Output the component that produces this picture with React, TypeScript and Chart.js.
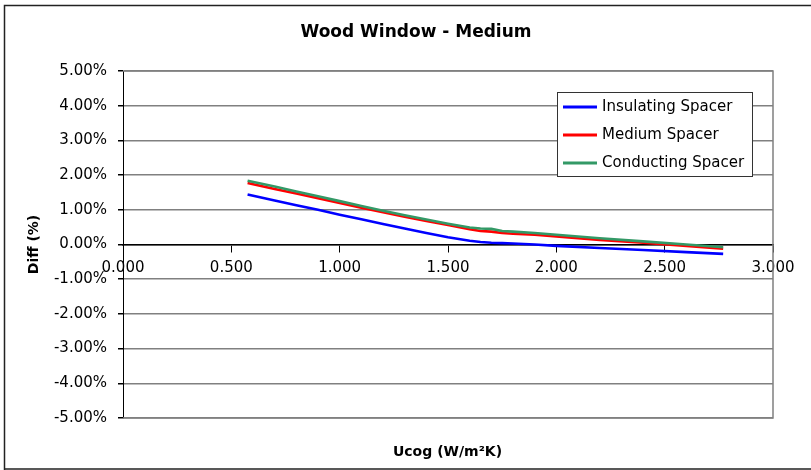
import React, { useEffect, useRef } from "react";
import { Chart, registerables } from "chart.js";

Chart.register(...registerables);

const TITLE = "Wood Window - Medium";
const X_TITLE = "Ucog (W/m\u00B2K)";
const Y_TITLE = "Diff (%)";

const ucog = [0.575, 0.7, 0.8, 0.9, 1.0, 1.1, 1.2, 1.3, 1.4, 1.5, 1.6, 1.65, 1.7, 1.75, 1.8, 1.9, 2.0, 2.2, 2.4, 2.6, 2.77];
const insulating = [1.44, 1.27, 1.13, 1.0, 0.86, 0.73, 0.59, 0.46, 0.33, 0.21, 0.11, 0.07, 0.05, 0.04, 0.03, 0.0, -0.04, -0.1, -0.16, -0.22, -0.27];
const medium = [1.77, 1.6, 1.47, 1.33, 1.2, 1.06, 0.93, 0.8, 0.68, 0.56, 0.44, 0.39, 0.37, 0.33, 0.31, 0.28, 0.23, 0.13, 0.05, -0.04, -0.12];
const conducting = [1.84, 1.67, 1.53, 1.39, 1.25, 1.11, 0.97, 0.84, 0.72, 0.6, 0.49, 0.46, 0.45, 0.39, 0.37, 0.33, 0.28, 0.18, 0.09, 0.0, -0.08];

const seriesNames = ["Insulating Spacer", "Medium Spacer", "Conducting Spacer"];
const seriesColors = ["#0000FF", "#FF0000", "#339966"];
const seriesValues = [insulating, medium, conducting];

const FONT = "'DejaVu Sans', 'Liberation Sans', Arial, sans-serif";

const framePlugin = {
  id: "frame",
  beforeDraw(chart: any) {
    const { ctx } = chart;
    ctx.save();
    ctx.fillStyle = "#fff";
    ctx.fillRect(0, 0, chart.width, chart.height);
    ctx.strokeStyle = "#222";
    ctx.lineWidth = 1.5;
    ctx.beginPath();
    ctx.moveTo(4.5, chart.height);
    ctx.lineTo(4.5, 5.5);
    ctx.lineTo(chart.width, 5.5);
    ctx.moveTo(4, chart.height - 1);
    ctx.lineTo(chart.width, chart.height - 1);
    ctx.stroke();
    ctx.restore();
  },
  beforeDatasetsDraw(chart: any) {
    const { ctx, chartArea } = chart;
    ctx.save();
    ctx.strokeStyle = "#808080";
    ctx.lineWidth = 1.5;
    ctx.beginPath();
    ctx.moveTo(chartArea.left, chartArea.top);
    ctx.lineTo(chartArea.right, chartArea.top);
    ctx.lineTo(chartArea.right, chartArea.bottom);
    ctx.lineTo(chartArea.left, chartArea.bottom);
    ctx.stroke();
    ctx.restore();
  },
  afterDatasetsDraw(chart: any) {
    const { ctx, chartArea } = chart;
    const bx = chartArea.right - 216;
    const by = chartArea.top + 21;
    const bw = 195;
    const bh = 84;
    ctx.save();
    ctx.fillStyle = "#fff";
    ctx.fillRect(bx, by, bw, bh);
    ctx.strokeStyle = "#333";
    ctx.lineWidth = 1;
    ctx.strokeRect(bx + 0.5, by + 0.5, bw, bh);
    ctx.font = "15px " + FONT;
    ctx.textBaseline = "middle";
    ctx.textAlign = "left";
    chart.data.datasets.forEach((ds: any, i: number) => {
      const y = by + 15 + i * 28;
      ctx.strokeStyle = ds.borderColor;
      ctx.lineWidth = 3;
      ctx.beginPath();
      ctx.moveTo(bx + 6, y);
      ctx.lineTo(bx + 40, y);
      ctx.stroke();
      ctx.fillStyle = "#000";
      ctx.fillText(ds.label, bx + 45, y);
    });
    ctx.restore();
  },
  afterDraw(chart: any) {
    const { ctx, chartArea } = chart;
    ctx.save();
    ctx.fillStyle = "#000";
    ctx.textAlign = "center";
    ctx.textBaseline = "middle";
    ctx.font = "bold 17px " + FONT;
    ctx.fillText(TITLE, 416, 33);
    ctx.font = "bold 14px " + FONT;
    ctx.fillText(X_TITLE, (chartArea.left + chartArea.right) / 2 - 0.5, chartArea.bottom + 34);
    ctx.restore();
  },
};

export default function App() {
  const ref = useRef<HTMLCanvasElement | null>(null);
  useEffect(() => {
    document.body.style.margin = "0";
    const canvas = ref.current!;
    const chart = new Chart(canvas, {
      type: "line",
      data: {
        datasets: seriesNames.map((name, i) => ({
          label: name,
          data: ucog.map((x, j) => ({ x, y: seriesValues[i][j] })),
          borderColor: seriesColors[i],
          backgroundColor: seriesColors[i],
          borderWidth: 2.6,
          pointRadius: 0,
          tension: 0,
          fill: false,
          order: 2 - i,
        })),
      },
      options: {
        animation: false,
        responsive: false,
        maintainAspectRatio: false,
        layout: { padding: { left: 0, right: 38, top: 71, bottom: 52 } },
        plugins: {
          legend: { display: false },
          tooltip: { enabled: false },
          title: { display: false },
        },
        scales: {
          x: {
            type: "linear",
            position: { y: 0 } as any,
            min: 0,
            max: 3,
            ticks: {
              stepSize: 0.5,
              autoSkip: false,
              maxRotation: 0,
              color: "#000",
              font: { family: FONT, size: 15 },
              padding: 8,
              callback: (v: any) => Number(v).toFixed(3),
            },
            grid: {
              drawOnChartArea: false,
              drawTicks: true,
              tickLength: 7,
              tickColor: "#000",
            },
            border: { display: true, color: "#000", width: 1.5 },
          },
          y: {
            type: "linear",
            position: "left",
            min: -5,
            max: 5,
            afterFit: (s: any) => {
              s.width = 123;
            },
            ticks: {
              stepSize: 1,
              color: "#000",
              font: { family: FONT, size: 15 },
              padding: 11,
              callback: (v: any) => Number(v).toFixed(2) + "%",
            },
            grid: {
              color: "#808080",
              lineWidth: 1.5,
              tickLength: 5,
              tickColor: "#000",
              drawTicks: true,
            },
            border: { display: true, color: "#000", width: 1 },
            title: {
              display: true,
              text: Y_TITLE,
              color: "#000",
              font: { family: FONT, size: 14, weight: "bold" },
              padding: { top: 26, bottom: 0 },
            },
          },
        },
      },
      plugins: [framePlugin],
    } as any);
    return () => chart.destroy();
  }, []);
  return (
    <div style={{ width: 811, height: 470 }}>
      <canvas ref={ref} width={811} height={470} style={{ display: "block" }} />
    </div>
  );
}
